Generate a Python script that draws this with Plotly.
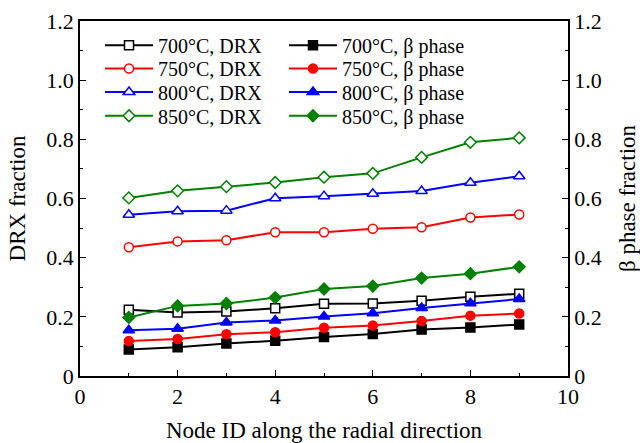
import plotly.graph_objects as go

nodes = [1, 2, 3, 4, 5, 6, 7, 8, 9]

drx_700 = [0.224, 0.215, 0.218, 0.229, 0.244, 0.245, 0.254, 0.268, 0.278]
drx_750 = [0.435, 0.455, 0.459, 0.486, 0.486, 0.498, 0.503, 0.536, 0.546]
drx_800 = [0.545, 0.557, 0.559, 0.601, 0.608, 0.616, 0.625, 0.653, 0.675]
drx_850 = [0.602, 0.626, 0.640, 0.654, 0.672, 0.685, 0.739, 0.790, 0.805]

beta_700 = [0.090, 0.097, 0.110, 0.119, 0.132, 0.142, 0.157, 0.164, 0.174]
beta_750 = [0.118, 0.125, 0.141, 0.148, 0.163, 0.171, 0.186, 0.204, 0.211]
beta_800 = [0.155, 0.160, 0.181, 0.188, 0.201, 0.212, 0.230, 0.246, 0.260]
beta_850 = [0.198, 0.237, 0.245, 0.265, 0.294, 0.304, 0.331, 0.346, 0.369]

y_ticks = [0, 0.2, 0.4, 0.6, 0.8, 1.0, 1.2]
y_ticktext = ["0", "0.2", "0.4", "0.6", "0.8", "1.0", "1.2"]
x_ticks = [0, 2, 4, 6, 8, 10]

series = [
    ("700°C, DRX", drx_700, "black", "square", False),
    ("700°C, β phase", beta_700, "black", "square", True),
    ("750°C, DRX", drx_750, "red", "circle", False),
    ("750°C, β phase", beta_750, "red", "circle", True),
    ("800°C, DRX", drx_800, "blue", "triangle-up", False),
    ("800°C, β phase", beta_800, "blue", "triangle-up", True),
    ("850°C, DRX", drx_850, "green", "diamond", False),
    ("850°C, β phase", beta_850, "green", "diamond", True),
]

font = "Liberation Serif, Times New Roman, serif"

# legend slot layout: two columns, four rows
legend_cols = [0.041, 0.418]
legend_rows = [0.932, 0.866, 0.800, 0.733]

fig = go.Figure()
legend_layout = {}
for i, (name, vals, col, sym, filled) in enumerate(series):
    lname = "legend" if i == 0 else f"legend{i + 1}"
    fig.add_trace(go.Scatter(
        x=nodes, y=vals, name=name, mode="lines+markers",
        yaxis="y2" if filled else "y",
        legend=lname,
        line=dict(color=col, width=2),
        marker=dict(symbol=sym, size=9 if sym != "triangle-up" else 10,
                    color=col if filled else "white",
                    line=dict(color=col, width=1.5)),
    ))
    legend_layout[lname] = dict(
        x=legend_cols[i % 2], y=legend_rows[i // 2],
        xanchor="left", yanchor="middle",
        itemwidth=48, bgcolor="rgba(0,0,0,0)",
        font=dict(family=font, size=20, color="black"),
    )

axis_common = dict(
    showline=True, linecolor="black", linewidth=1.5,
    ticks="inside", ticklen=6, tickwidth=1.2, tickcolor="black",
    showgrid=False, zeroline=False, automargin=False,
    tickfont=dict(family=font, size=22, color="black"),
)

fig.update_layout(
    width=640, height=443,
    margin=dict(l=80, r=72, t=21, b=67),
    paper_bgcolor="white", plot_bgcolor="white",
    font=dict(family=font, size=20, color="black"),
    xaxis=dict(range=[0, 10], tickvals=x_ticks, mirror=True,
               minor=dict(dtick=1, ticks="inside", ticklen=3, tickcolor="black", showgrid=False),
               title=dict(text="Node ID along the radial direction", font=dict(family=font, size=23), standoff=21),
               **axis_common),
    yaxis=dict(range=[0, 1.2], tickvals=y_ticks, ticktext=y_ticktext,
               minor=dict(dtick=0.1, ticks="inside", ticklen=3, tickcolor="black", showgrid=False),
               title=dict(text="DRX fraction", font=dict(family=font, size=23), standoff=14),
               **axis_common),
    yaxis2=dict(range=[0, 1.2], tickvals=y_ticks, ticktext=y_ticktext, overlaying="y", side="right",
                minor=dict(dtick=0.1, ticks="inside", ticklen=3, tickcolor="black", showgrid=False),
                title=dict(text="β phase fraction", font=dict(family=font, size=23), standoff=27),
                **axis_common),
    showlegend=True,
    **legend_layout,
)

fig.write_html("out.html")
